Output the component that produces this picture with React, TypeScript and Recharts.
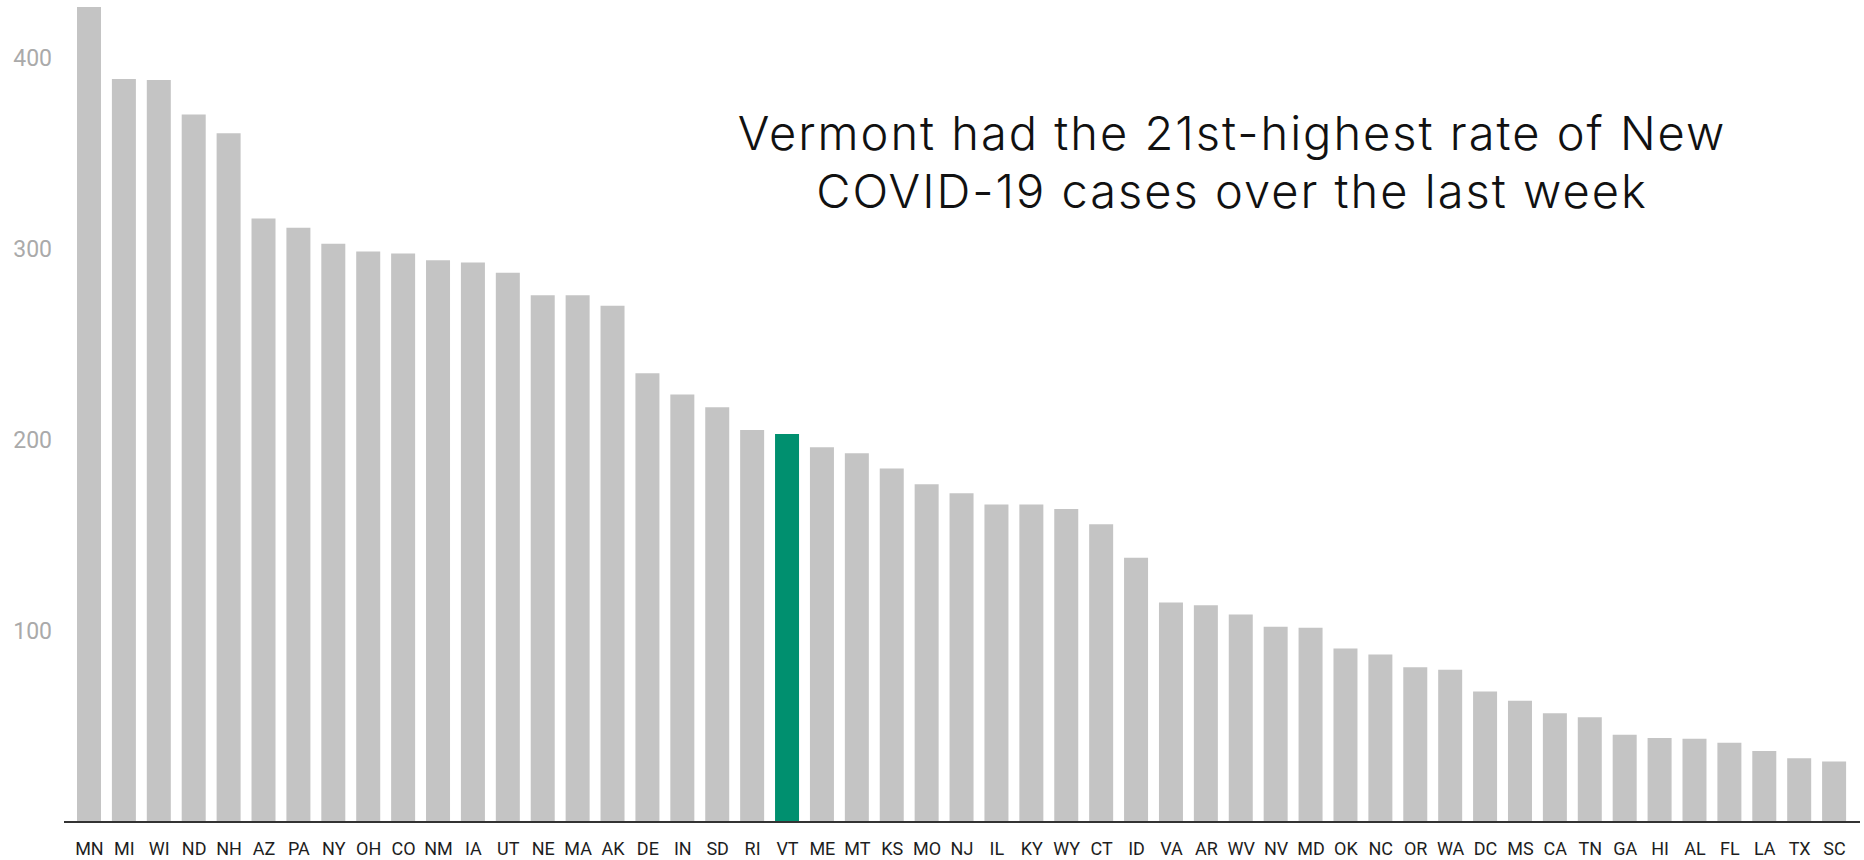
import React from 'react';
import { BarChart, Bar, XAxis, YAxis, Cell } from 'recharts';

const states = [
  'MN', 'MI', 'WI', 'ND', 'NH', 'AZ', 'PA', 'NY', 'OH', 'CO', 'NM', 'IA', 'UT', 'NE', 'MA', 'AK', 'DE',
  'IN', 'SD', 'RI', 'VT', 'ME', 'MT', 'KS', 'MO', 'NJ', 'IL', 'KY', 'WY', 'CT', 'ID', 'VA', 'AR', 'WV',
  'NV', 'MD', 'OK', 'NC', 'OR', 'WA', 'DC', 'MS', 'CA', 'TN', 'GA', 'HI', 'AL', 'FL', 'LA', 'TX', 'SC',
];

const rates = [
  426.4, 388.7, 388.1, 370.1, 360.3, 315.7, 310.9, 302.5, 298.5, 297.4, 293.8, 292.7, 287.3, 275.5, 275.5,
  270.1, 234.7, 223.6, 216.9, 205.1, 203.0, 196.0, 192.9, 184.9, 176.7, 172.0, 166.1, 166.1, 163.8, 155.8,
  138.2, 114.8, 113.4, 108.5, 102.1, 101.6, 90.8, 87.6, 81.0, 79.6, 68.3, 63.4, 56.9, 54.8, 45.6, 44.0,
  43.5, 41.4, 37.1, 33.3, 31.7,
];

const highlightState = 'VT';
const yTicks = [100, 200, 300, 400];
const yDomain = [0, 430];
const titleLines = ['Vermont had the 21st-highest rate of New', 'COVID-19 cases over the last week'];

const data = states.map((s, i) => ({ state: s, rate: rates[i] }));

export default function App() {
  return (
    <div style={{ position: 'absolute', left: 0, top: 0, width: 1864, height: 860, background: '#ffffff' }}>
      <BarChart width={1864} height={860} data={data} margin={{ top: 0, right: 4, bottom: 0, left: 0 }} barSize={24}>
        <XAxis
          dataKey="state"
          interval={0}
          axisLine={{ stroke: '#333333', strokeWidth: 2 }}
          tickLine={false}
          tick={{ fill: '#1e1e1e', fontSize: 18, fontFamily: 'Roboto' }}
          tickMargin={14}
          height={38}
          padding={{ left: 8, right: 8 }}
        />
        <YAxis
          domain={yDomain}
          ticks={yTicks}
          axisLine={false}
          tickLine={false}
          width={64}
          tick={{ fill: '#aaaaaa', fontSize: 23, fontFamily: 'Roboto' }}
          tickMargin={6}
        />
        <Bar dataKey="rate" isAnimationActive={false}>
          {data.map((d) => (
            <Cell key={d.state} fill={d.state === highlightState ? '#00906f' : '#c4c4c4'} />
          ))}
        </Bar>
      </BarChart>
      <div
        style={{
          position: 'absolute',
          left: 632,
          top: 104,
          width: 1200,
          textAlign: 'center',
          fontFamily: 'Inter, sans-serif',
          fontWeight: 300,
          fontSize: 47,
          letterSpacing: 2,
          lineHeight: '58px',
          color: '#111111',
          whiteSpace: 'nowrap',
        }}
      >
        {titleLines.map((l) => (
          <div key={l}>{l}</div>
        ))}
      </div>
    </div>
  );
}
